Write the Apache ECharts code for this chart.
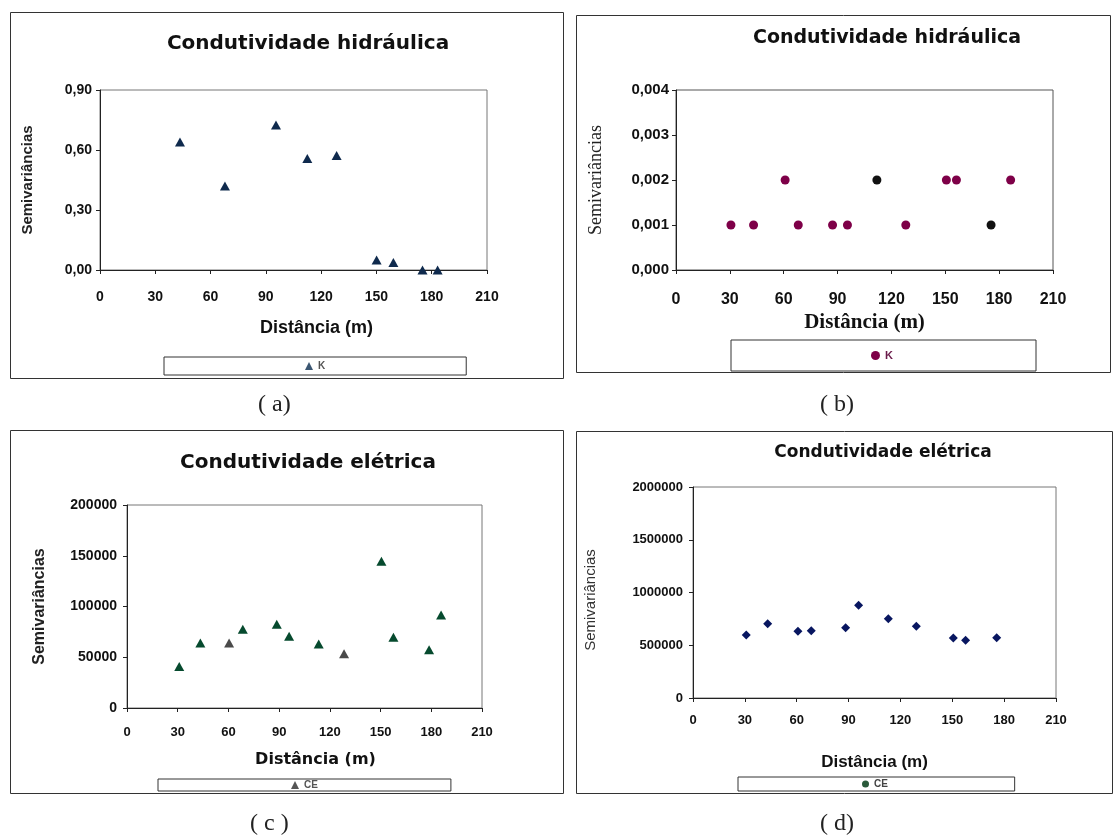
<!DOCTYPE html>
<html>
<head>
<meta charset="utf-8">
<script src="https://cdn.jsdelivr.net/npm/echarts@6/dist/echarts.min.js"></script>
<style>
  html, body { margin: 0; padding: 0; background: #fff; }
  #chart { width: 1116px; height: 839px; }
</style>
</head>
<body>
<div id="chart"></div>
<script>
// Distance ticks shared by all four variograms (m)
const distTicks = [0, 30, 60, 90, 120, 150, 180, 210];

// (a) Hydraulic conductivity, triangles
const distA = [43.4, 67.8, 95.5, 112.5, 128.4, 150.1, 159.2, 175, 183.2];
const semivarA = [0.64, 0.42, 0.725, 0.557, 0.573, 0.05, 0.038, 0, 0];
const yTicksA = [0, 0.30, 0.60, 0.90];

// (b) Hydraulic conductivity, circles
const distB = [30.6, 43.2, 60.8, 68.1, 87.2, 95.5, 111.9, 128, 150.6, 156.2, 175.5, 186.4];
const semivarB = [0.001, 0.001, 0.002, 0.001, 0.001, 0.001, 0.002, 0.001, 0.002, 0.002, 0.001, 0.002];
const darkB = [6, 10];
const yTicksB = [0, 0.001, 0.002, 0.003, 0.004];

// (c) Electrical conductivity, triangles
const distC = [30.9, 43.4, 60.4, 68.5, 88.6, 95.9, 113.4, 128.4, 150.5, 157.6, 178.7, 185.8];
const semivarC = [41000, 64000, 64000, 77500, 82500, 70600, 63000, 53500, 144500, 69700, 57400, 91600];
const greyC = [2, 7];
const yTicksC = [0, 50000, 100000, 150000, 200000];

// (d) Electrical conductivity, diamonds
const distD = [30.8, 43.2, 60.7, 68.4, 88.3, 95.8, 113, 129.2, 150.6, 157.7, 175.7];
const semivarD = [597000, 704000, 632000, 638000, 666000, 879000, 752000, 680000, 569000, 547000, 572000];
const yTicksD = [0, 500000, 1000000, 1500000, 2000000];

const panelLetters = ['( a)', '( b)', '( c )', '( d)'];

const SANS = "'Liberation Sans', Arial, sans-serif";
const SERIF = "'Liberation Serif', 'Times New Roman', serif";
const WIDE = "'DejaVu Sans', 'Liberation Sans', sans-serif";

const pairs = (xs, ys) => xs.map((x, i) => [x, ys[i]]);
const step = t => t[1] - t[0];

function xAxisFor(gridIndex, label, name) {
  return {
    type: 'value', gridIndex,
    min: distTicks[0], max: distTicks[distTicks.length - 1], interval: step(distTicks),
    axisLine: { show: true, onZero: false, lineStyle: { color: '#222', width: 1 } },
    axisTick: { show: true, length: 4, lineStyle: { color: '#222' } },
    splitLine: { show: false },
    axisLabel: Object.assign({ color: '#111' }, label),
    name: name.text, nameLocation: 'middle', nameGap: name.gap,
    nameTextStyle: name.style
  };
}

function yAxisFor(gridIndex, ticks, fmt, label, name) {
  return {
    type: 'value', gridIndex,
    min: ticks[0], max: ticks[ticks.length - 1], interval: step(ticks),
    axisLine: { show: true, onZero: false, lineStyle: { color: '#222', width: 1 } },
    axisTick: { show: true, length: 4, lineStyle: { color: '#222' } },
    splitLine: { show: false },
    axisLabel: Object.assign({ color: '#111', formatter: fmt }, label),
    name: name.text, nameLocation: 'middle', nameGap: name.gap, nameRotate: 90,
    nameTextStyle: name.style
  };
}

const comma = d => v => v.toFixed(d).replace('.', ',');

const chart = echarts.init(document.getElementById('chart'), null, { renderer: 'canvas' });

const option = {
  backgroundColor: '#fff',
  animation: false,
  title: [
    { text: 'Condutividade hidráulica', left: 303, top: 29, textAlign: 'center',
      textStyle: { fontFamily: WIDE, fontSize: 20, fontWeight: 'bold', color: '#111' } },
    { text: 'Condutividade hidráulica', left: 882, top: 24, textAlign: 'center',
      textStyle: { fontFamily: WIDE, fontSize: 19, fontWeight: 'bold', color: '#111' } },
    { text: 'Condutividade elétrica', left: 303, top: 448, textAlign: 'center',
      textStyle: { fontFamily: WIDE, fontSize: 20, fontWeight: 'bold', color: '#111' } },
    { text: 'Condutividade elétrica', left: 878, top: 439, textAlign: 'center',
      textStyle: { fontFamily: WIDE, fontSize: 17, fontWeight: 'bold', color: '#111' } }
  ],
  grid: [
    { left: 100, top: 90, width: 387, height: 180, show: true, borderColor: '#777', borderWidth: 1, backgroundColor: 'transparent' },
    { left: 676, top: 90, width: 377, height: 180, show: true, borderColor: '#555', borderWidth: 1, backgroundColor: 'transparent' },
    { left: 127, top: 505, width: 355, height: 203, show: true, borderColor: '#777', borderWidth: 1, backgroundColor: 'transparent' },
    { left: 693, top: 487, width: 363, height: 211, show: true, borderColor: '#777', borderWidth: 1, backgroundColor: 'transparent' }
  ],
  xAxis: [
    xAxisFor(0, { fontFamily: SANS, fontSize: 14, fontWeight: 'bold', margin: 20 },
      { text: 'Distância (m)', gap: 49, style: { fontFamily: SANS, fontSize: 18, fontWeight: 'bold', color: '#111', padding: [0, 0, 0, 46] } }),
    xAxisFor(1, { fontFamily: SANS, fontSize: 16, fontWeight: 'bold', margin: 22 },
      { text: 'Distância (m)', gap: 42, style: { fontFamily: SERIF, fontSize: 21, fontWeight: 'bold', color: '#111' } }),
    xAxisFor(2, { fontFamily: SANS, fontSize: 13, fontWeight: 'bold', margin: 18 },
      { text: 'Distância (m)', gap: 44, style: { fontFamily: WIDE, fontSize: 16, fontWeight: 'bold', color: '#111', padding: [0, 0, 0, 22] } }),
    xAxisFor(3, { fontFamily: SANS, fontSize: 13, fontWeight: 'bold', margin: 16 },
      { text: 'Distância (m)', gap: 56, style: { fontFamily: SANS, fontSize: 17, fontWeight: 'bold', color: '#111' } })
  ],
  yAxis: [
    yAxisFor(0, yTicksA, comma(2), { fontFamily: SANS, fontSize: 14, fontWeight: 'bold', margin: 8 },
      { text: 'Semivariâncias', gap: 65, style: { fontFamily: SANS, fontSize: 15, fontWeight: 'bold', color: '#222' } }),
    yAxisFor(1, yTicksB, comma(3), { fontFamily: SANS, fontSize: 15, fontWeight: 'bold', margin: 7 },
      { text: 'Semivariâncias', gap: 71, style: { fontFamily: SERIF, fontSize: 18, color: '#222' } }),
    yAxisFor(2, yTicksC, v => String(v), { fontFamily: SANS, fontSize: 14, fontWeight: 'bold', margin: 10 },
      { text: 'Semivariâncias', gap: 79, style: { fontFamily: SANS, fontSize: 16, fontWeight: 'bold', color: '#222' } }),
    yAxisFor(3, yTicksD, v => String(v), { fontFamily: SANS, fontSize: 13, fontWeight: 'bold', margin: 10 },
      { text: 'Semivariâncias', gap: 95, style: { fontFamily: SANS, fontSize: 15, color: '#333', padding: [0, 15, 0, 0] } })
  ],
  legend: [
    { data: [{ name: 'K', icon: 'triangle' }], left: 164, top: 357, padding: [4, 141, 4, 141],
      itemWidth: 8, itemHeight: 8, borderColor: '#333', borderWidth: 1,
      itemStyle: { color: '#3b5672', opacity: 1 },
      textStyle: { fontFamily: SANS, fontSize: 10, fontWeight: 'bold', color: '#555' } },
    { data: [{ name: 'K ', icon: 'circle' }], left: 731, top: 340, padding: [10, 140, 10, 140],
      itemWidth: 9, itemHeight: 9, borderColor: '#333', borderWidth: 1,
      itemStyle: { color: '#7e0048', opacity: 1 },
      textStyle: { fontFamily: SANS, fontSize: 11, fontWeight: 'bold', color: '#6a1a4a' } },
    { data: [{ name: 'CE', icon: 'triangle' }], left: 158, top: 779, padding: [1, 133, 1, 133],
      itemWidth: 8, itemHeight: 8, borderColor: '#333', borderWidth: 1,
      itemStyle: { color: '#555', opacity: 1 },
      textStyle: { fontFamily: SANS, fontSize: 10, fontWeight: 'bold', color: '#555' } },
    { data: [{ name: 'CE ', icon: 'circle' }], left: 738, top: 777, padding: [2, 124, 2, 124],
      itemWidth: 7, itemHeight: 7, borderColor: '#333', borderWidth: 1,
      itemStyle: { color: '#2a5a3a', opacity: 1 },
      textStyle: { fontFamily: SANS, fontSize: 10, fontWeight: 'bold', color: '#444' } }
  ],
  graphic: [
    // panel frames
    { type: 'rect', shape: { x: 10.5, y: 12.5, width: 553, height: 366 }, style: { fill: 'none', stroke: '#333', lineWidth: 1 }, silent: true },
    { type: 'rect', shape: { x: 576.5, y: 15.5, width: 534, height: 357 }, style: { fill: 'none', stroke: '#333', lineWidth: 1 }, silent: true },
    { type: 'rect', shape: { x: 10.5, y: 430.5, width: 553, height: 363 }, style: { fill: 'none', stroke: '#333', lineWidth: 1 }, silent: true },
    { type: 'rect', shape: { x: 576.5, y: 431.5, width: 536, height: 362 }, style: { fill: 'none', stroke: '#333', lineWidth: 1 }, silent: true },
    // panel letters
    { type: 'text', left: 258, top: 393, style: { text: panelLetters[0], font: "24px " + SERIF, fill: '#222' } },
    { type: 'text', left: 820, top: 393, style: { text: panelLetters[1], font: "24px " + SERIF, fill: '#222' } },
    { type: 'text', left: 250, top: 812, style: { text: panelLetters[2], font: "24px " + SERIF, fill: '#222' } },
    { type: 'text', left: 820, top: 812, style: { text: panelLetters[3], font: "24px " + SERIF, fill: '#222' } }
  ],
  series: [
    { name: 'K', type: 'scatter', xAxisIndex: 0, yAxisIndex: 0, symbol: 'triangle', symbolSize: [10, 9],
      itemStyle: { color: '#0f2a4d', opacity: 1 }, data: pairs(distA, semivarA) },
    { name: 'K ', type: 'scatter', xAxisIndex: 1, yAxisIndex: 1, symbol: 'circle', symbolSize: 9,
      itemStyle: { color: p => darkB.includes(p.dataIndex) ? '#111' : '#7e0048', opacity: 1 },
      data: pairs(distB, semivarB) },
    { name: 'CE', type: 'scatter', xAxisIndex: 2, yAxisIndex: 2, symbol: 'triangle', symbolSize: [10, 9],
      itemStyle: { color: p => greyC.includes(p.dataIndex) ? '#4a4a4a' : '#064a2e', opacity: 1 },
      data: pairs(distC, semivarC) },
    { name: 'CE ', type: 'scatter', xAxisIndex: 3, yAxisIndex: 3, symbol: 'diamond', symbolSize: 9,
      itemStyle: { color: '#081660', opacity: 1 }, data: pairs(distD, semivarD) }
  ]
};

chart.setOption(option);
</script>
</body>
</html>
